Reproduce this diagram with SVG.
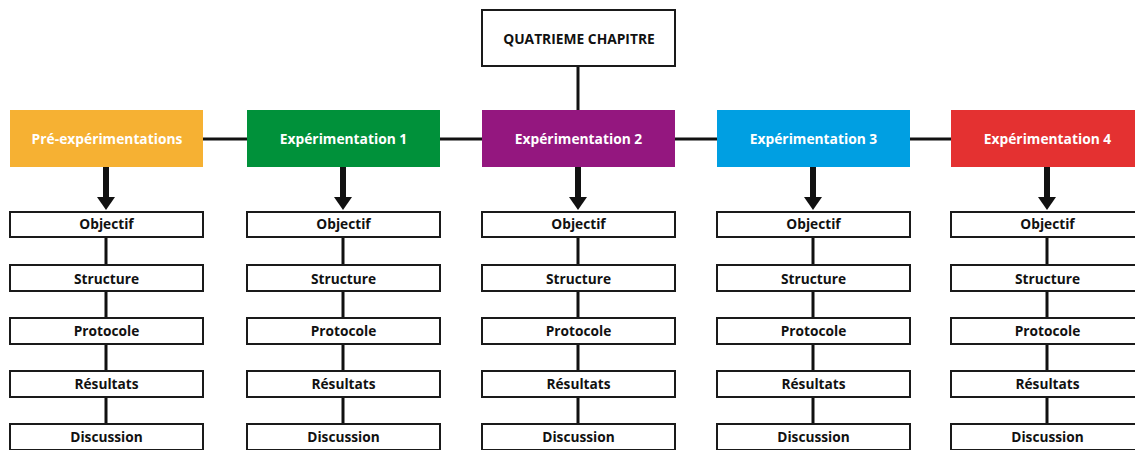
<svg xmlns="http://www.w3.org/2000/svg" width="1135" height="450" viewBox="0 0 1135 450">
<defs>
<style>
.hdr{stroke:none}
.sub{fill:#fff;stroke:#1a1a1a;stroke-width:2}
.top{fill:#fff;stroke:#1a1a1a;stroke-width:2}
.ht{font-family:"Open Sans",Lato,sans-serif;font-weight:bold;font-size:13.8px;fill:#fff;text-anchor:middle}
.st{font-family:"Open Sans",Lato,sans-serif;font-weight:bold;font-size:13.7px;fill:#111;text-anchor:middle}
.tt{font-family:"Open Sans",Lato,sans-serif;font-weight:bold;font-size:13.8px;fill:#111;text-anchor:middle}
.ln{stroke:#111;stroke-width:3;fill:none}
.sh{stroke:#111;stroke-width:6;fill:none}
.ah{fill:#111}
</style>
</defs>
<rect width="1135" height="450" fill="#fff"/>
<g id="connectors">
<line class="ln" x1="578" y1="66" x2="578" y2="110"/>
<line class="ln" x1="203" y1="139" x2="247" y2="139"/>
<line class="ln" x1="440" y1="139" x2="482" y2="139"/>
<line class="ln" x1="675" y1="139" x2="717" y2="139"/>
<line class="ln" x1="910" y1="139" x2="951" y2="139"/>
<g id="arrows">
<line class="sh" x1="106" y1="167" x2="106" y2="199"/><polygon class="ah" points="97,197 115,197 106,210"/>
<line class="sh" x1="343" y1="167" x2="343" y2="199"/><polygon class="ah" points="334,197 352,197 343,210"/>
<line class="sh" x1="578" y1="167" x2="578" y2="199"/><polygon class="ah" points="569,197 587,197 578,210"/>
<line class="sh" x1="813" y1="167" x2="813" y2="199"/><polygon class="ah" points="804,197 822,197 813,210"/>
<line class="sh" x1="1047" y1="167" x2="1047" y2="199"/><polygon class="ah" points="1038,197 1056,197 1047,210"/>
</g>
<g id="stems">
<path class="ln" d="M106 237V265M106 291V318M106 344V371M106 397V424"/>
<path class="ln" d="M343 237V265M343 291V318M343 344V371M343 397V424"/>
<path class="ln" d="M578 237V265M578 291V318M578 344V371M578 397V424"/>
<path class="ln" d="M813 237V265M813 291V318M813 344V371M813 397V424"/>
<path class="ln" d="M1047 237V265M1047 291V318M1047 344V371M1047 397V424"/>
</g>
</g>
<g id="top">
<rect class="top" x="482" y="10" width="193" height="56"/>
<text class="tt" x="579" y="43.5">QUATRIEME CHAPITRE</text>
</g>
<g id="h0"><rect class="hdr" x="10" y="110" width="193" height="57" fill="#F6B133"/><text class="ht" x="107" y="143.5">Pré-expérimentations</text></g>
<g id="h1"><rect class="hdr" x="247" y="110" width="193" height="57" fill="#00913A"/><text class="ht" x="343.5" y="143.5">Expérimentation 1</text></g>
<g id="h2"><rect class="hdr" x="482" y="110" width="193" height="57" fill="#94177F"/><text class="ht" x="578.5" y="143.5">Expérimentation 2</text></g>
<g id="h3"><rect class="hdr" x="717" y="110" width="193" height="57" fill="#009FE2"/><text class="ht" x="813.5" y="143.5">Expérimentation 3</text></g>
<g id="h4"><rect class="hdr" x="951" y="110" width="193" height="57" fill="#E43131"/><text class="ht" x="1047.5" y="143.5">Expérimentation 4</text></g>

<g id="c0">
<g id="c0-obj"><rect class="sub" x="10" y="212" width="193" height="25"/><text class="st" x="106.5" y="229">Objectif</text></g>
<g id="c0-str"><rect class="sub" x="10" y="265" width="193" height="26"/><text class="st" x="106.5" y="283.5">Structure</text></g>
<g id="c0-pro"><rect class="sub" x="10" y="318" width="193" height="26"/><text class="st" x="106.5" y="336">Protocole</text></g>
<g id="c0-res"><rect class="sub" x="10" y="371" width="193" height="26"/><text class="st" x="106.5" y="389">Résultats</text></g>
<g id="c0-dis"><rect class="sub" x="10" y="424" width="193" height="26"/><text class="st" x="106.5" y="442">Discussion</text></g>
</g>
<g id="c1">
<g id="c1-obj"><rect class="sub" x="247" y="212" width="193" height="25"/><text class="st" x="343.5" y="229">Objectif</text></g>
<g id="c1-str"><rect class="sub" x="247" y="265" width="193" height="26"/><text class="st" x="343.5" y="283.5">Structure</text></g>
<g id="c1-pro"><rect class="sub" x="247" y="318" width="193" height="26"/><text class="st" x="343.5" y="336">Protocole</text></g>
<g id="c1-res"><rect class="sub" x="247" y="371" width="193" height="26"/><text class="st" x="343.5" y="389">Résultats</text></g>
<g id="c1-dis"><rect class="sub" x="247" y="424" width="193" height="26"/><text class="st" x="343.5" y="442">Discussion</text></g>
</g>
<g id="c2">
<g id="c2-obj"><rect class="sub" x="482" y="212" width="193" height="25"/><text class="st" x="578.5" y="229">Objectif</text></g>
<g id="c2-str"><rect class="sub" x="482" y="265" width="193" height="26"/><text class="st" x="578.5" y="283.5">Structure</text></g>
<g id="c2-pro"><rect class="sub" x="482" y="318" width="193" height="26"/><text class="st" x="578.5" y="336">Protocole</text></g>
<g id="c2-res"><rect class="sub" x="482" y="371" width="193" height="26"/><text class="st" x="578.5" y="389">Résultats</text></g>
<g id="c2-dis"><rect class="sub" x="482" y="424" width="193" height="26"/><text class="st" x="578.5" y="442">Discussion</text></g>
</g>
<g id="c3">
<g id="c3-obj"><rect class="sub" x="717" y="212" width="193" height="25"/><text class="st" x="813.5" y="229">Objectif</text></g>
<g id="c3-str"><rect class="sub" x="717" y="265" width="193" height="26"/><text class="st" x="813.5" y="283.5">Structure</text></g>
<g id="c3-pro"><rect class="sub" x="717" y="318" width="193" height="26"/><text class="st" x="813.5" y="336">Protocole</text></g>
<g id="c3-res"><rect class="sub" x="717" y="371" width="193" height="26"/><text class="st" x="813.5" y="389">Résultats</text></g>
<g id="c3-dis"><rect class="sub" x="717" y="424" width="193" height="26"/><text class="st" x="813.5" y="442">Discussion</text></g>
</g>
<g id="c4">
<g id="c4-obj"><rect class="sub" x="951" y="212" width="193" height="25"/><text class="st" x="1047.5" y="229">Objectif</text></g>
<g id="c4-str"><rect class="sub" x="951" y="265" width="193" height="26"/><text class="st" x="1047.5" y="283.5">Structure</text></g>
<g id="c4-pro"><rect class="sub" x="951" y="318" width="193" height="26"/><text class="st" x="1047.5" y="336">Protocole</text></g>
<g id="c4-res"><rect class="sub" x="951" y="371" width="193" height="26"/><text class="st" x="1047.5" y="389">Résultats</text></g>
<g id="c4-dis"><rect class="sub" x="951" y="424" width="193" height="26"/><text class="st" x="1047.5" y="442">Discussion</text></g>
</g>
</svg>
